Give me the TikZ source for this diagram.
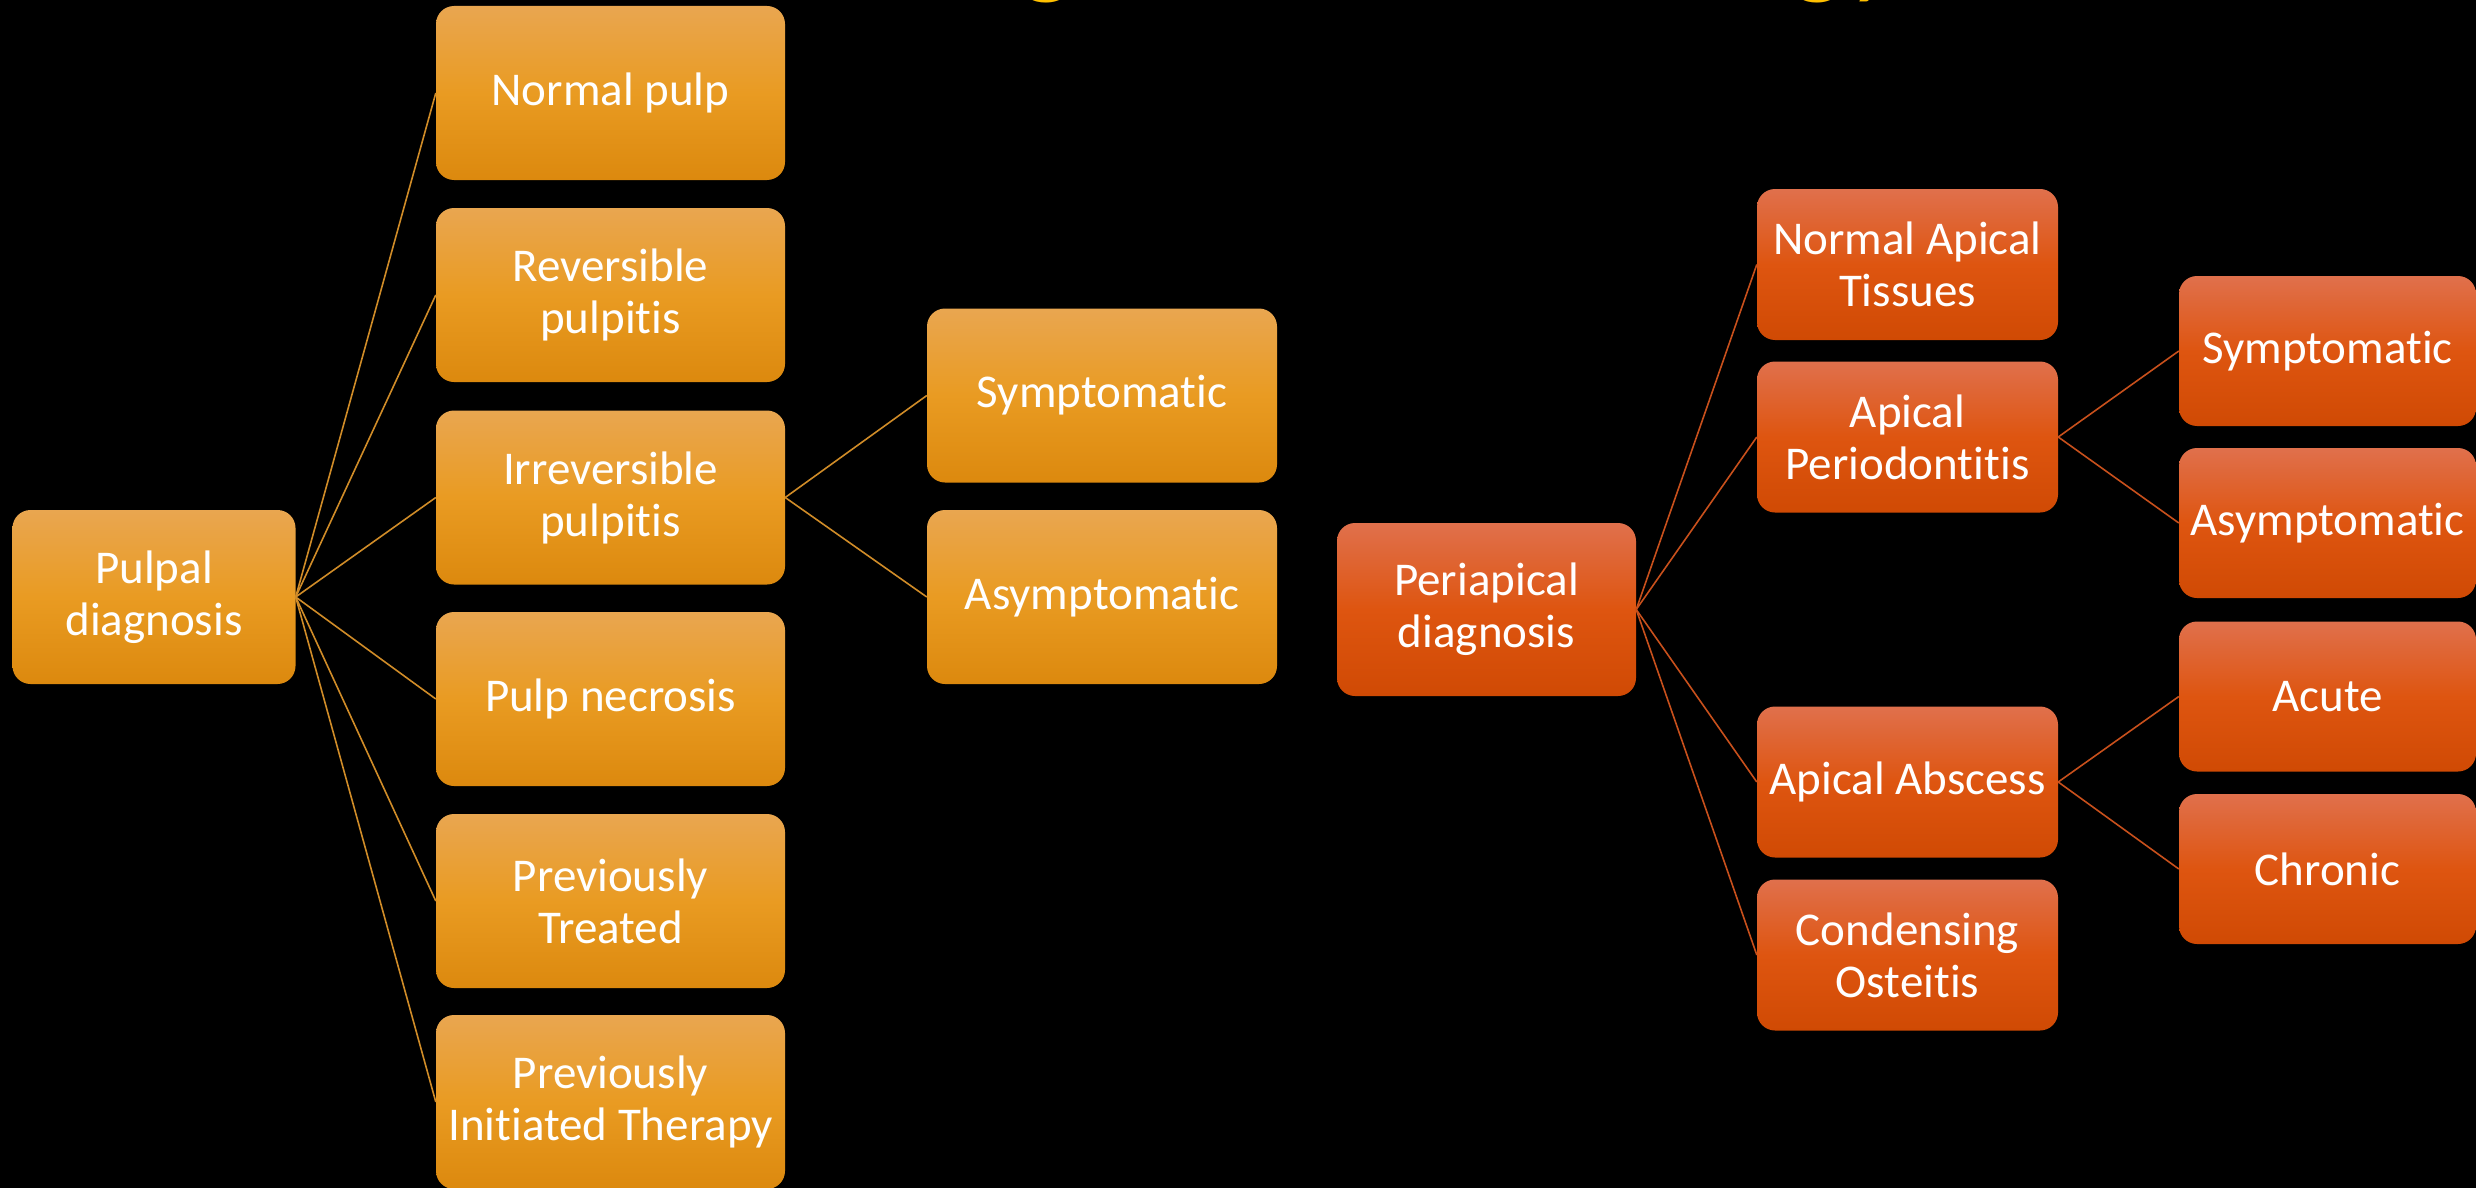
\documentclass[tikz,border=0pt]{standalone}
\usepackage{fontspec}
\setmainfont{Carlito}[Ligatures=NoCommon]
\definecolor{oTop}{HTML}{E9A650}
\definecolor{oMid}{HTML}{E99B22}
\definecolor{oBot}{HTML}{DC890E}
\definecolor{rTop}{HTML}{E0704C}
\definecolor{rMid}{HTML}{DE5510}
\definecolor{rBot}{HTML}{D04A04}
\definecolor{oLine}{HTML}{D08C28}
\definecolor{rLine}{HTML}{C8501C}
\definecolor{titleY}{HTML}{FFC000}
\tikzset{
  basebox/.style={rounded corners=18pt, inner sep=0pt, text=white, align=center,
    font=\fontsize{47}{52}\selectfont},
  obox/.style={basebox, top color=oTop, bottom color=oBot, middle color=oMid},
  rbox/.style={basebox, top color=rTop, bottom color=rBot, middle color=rMid},
  olink/.style={draw=oLine, line width=1.6pt},
  rlink/.style={draw=rLine, line width=1.6pt},
}
\begin{document}
\begin{tikzpicture}[x=1pt,y=-1pt]
\fill[black] (0,0) rectangle (2476,1188);
\useasboundingbox (0,0) rectangle (2476,1188);
\begin{scope}
\clip (0,0) rectangle (2476,1188);
\node[anchor=base west, inner sep=0pt, text=titleY, font=\fontsize{108}{110}\selectfont\itshape] (title) at (880,-15) {Diagnostic Terminology,};
% left tree
\node[obox, minimum width=283pt, minimum height=174pt] (pulpal) at (154,597) {Pulpal\\diagnosis};
\node[obox, minimum width=349pt, minimum height=174pt] (np) at (610.5,93) {Normal pulp};
\node[obox, minimum width=349pt, minimum height=174pt] (rp) at (610.5,295) {Reversible\\pulpitis};
\node[obox, minimum width=349pt, minimum height=174pt] (ip) at (610.5,497.5) {Irreversible\\pulpitis};
\node[obox, minimum width=349pt, minimum height=174pt] (pn) at (610.5,699) {Pulp necrosis};
\node[obox, minimum width=349pt, minimum height=174pt] (pt) at (610.5,901) {Previously\\Treated};
\node[obox, minimum width=349pt, minimum height=174pt] (pit) at (610.5,1102) {Previously\\Initiated Therapy};
\node[obox, minimum width=350pt, minimum height=174pt] (sympL) at (1102,395.5) {Symptomatic};
\node[obox, minimum width=350pt, minimum height=174pt] (asympL) at (1102,597) {Asymptomatic};
\foreach \t in {np,rp,ip,pn,pt,pit} \draw[olink] (pulpal.east) -- (\t.west);
\draw[olink] (ip.east) -- (sympL.west);
\draw[olink] (ip.east) -- (asympL.west);
% right tree
\node[rbox, minimum width=299pt, minimum height=173pt] (peri) at (1486.5,609.5) {Periapical\\diagnosis};
\node[rbox, minimum width=301pt, minimum height=151pt] (nat) at (1907.5,264.5) {Normal Apical\\Tissues};
\node[rbox, minimum width=301pt, minimum height=151pt] (ap) at (1907.5,437) {Apical\\Periodontitis};
\node[rbox, minimum width=301pt, minimum height=151pt] (aa) at (1907.5,782) {Apical Abscess};
\node[rbox, minimum width=301pt, minimum height=151pt] (co) at (1907.5,955) {Condensing\\Osteitis};
\node[rbox, minimum width=297pt, minimum height=150pt] (sympR) at (2327.5,351) {Symptomatic};
\node[rbox, minimum width=297pt, minimum height=150pt] (asympR) at (2327.5,523) {Asymptomatic};
\node[rbox, minimum width=297pt, minimum height=150pt] (acute) at (2327.5,696.5) {Acute};
\node[rbox, minimum width=297pt, minimum height=150pt] (chronic) at (2327.5,869) {Chronic};
\foreach \t in {nat,ap,aa,co} \draw[rlink] (peri.east) -- (\t.west);
\draw[rlink] (ap.east) -- (sympR.west);
\draw[rlink] (ap.east) -- (asympR.west);
\draw[rlink] (aa.east) -- (acute.west);
\draw[rlink] (aa.east) -- (chronic.west);
\end{scope}
\end{tikzpicture}
\end{document}
